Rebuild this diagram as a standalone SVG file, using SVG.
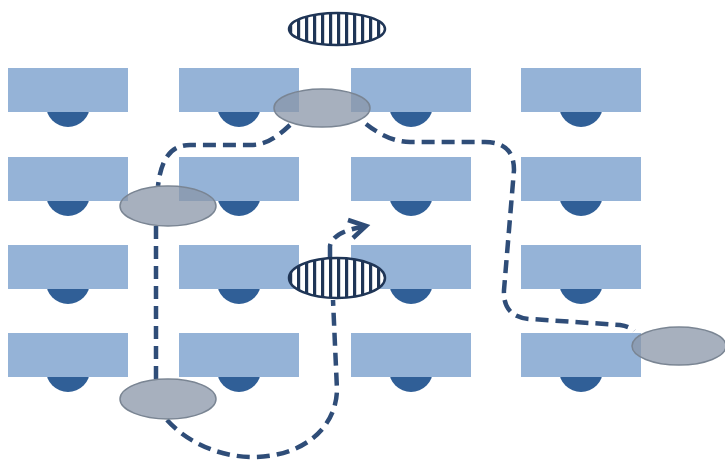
<svg xmlns="http://www.w3.org/2000/svg" width="725" height="466" viewBox="0 0 725 466">
<defs>
<pattern id="stripes" patternUnits="userSpaceOnUse" x="289" y="0" width="8" height="8">
<rect width="8" height="8" fill="#ffffff"/>
<rect width="3.2" height="8" fill="#1f3556"/>
</pattern>
<style>
.desk{fill:#95b3d7}
.seat{fill:#305f97}
.zone{fill:#8a96a8;fill-opacity:0.75;stroke:#7a8593;stroke-width:1.5}
.hatch{fill:url(#stripes);stroke:#1f3556;stroke-width:2.5}
.route{fill:none;stroke:#2f4d78;stroke-width:4.5;stroke-dasharray:13 7;stroke-linecap:butt}
.head{fill:none;stroke:#2f4d78;stroke-width:4.5;stroke-linejoin:miter}
</style>
<g id="unit">
<circle class="seat" cx="60" cy="37" r="22"/>
<rect class="desk" x="0" y="0" width="120" height="44"/>
</g>
</defs>
<rect width="725" height="466" fill="#ffffff"/>
<g id="desks">
<g id="d11"><use href="#unit" x="8" y="68"/></g>
<g id="d12"><use href="#unit" x="179" y="68"/></g>
<g id="d13"><use href="#unit" x="351" y="68"/></g>
<g id="d14"><use href="#unit" x="521" y="68"/></g>
<g id="d21"><use href="#unit" x="8" y="157"/></g>
<g id="d22"><use href="#unit" x="179" y="157"/></g>
<g id="d23"><use href="#unit" x="351" y="157"/></g>
<g id="d24"><use href="#unit" x="521" y="157"/></g>
<g id="d31"><use href="#unit" x="8" y="245"/></g>
<g id="d32"><use href="#unit" x="179" y="245"/></g>
<g id="d33"><use href="#unit" x="351" y="245"/></g>
<g id="d34"><use href="#unit" x="521" y="245"/></g>
<g id="d41"><use href="#unit" x="8" y="333"/></g>
<g id="d42"><use href="#unit" x="179" y="333"/></g>
<g id="d43"><use href="#unit" x="351" y="333"/></g>
<g id="d44"><use href="#unit" x="521" y="333"/></g>
</g>
<g id="connectors">
<path class="route" d="M 290 125 C 276 138 266 145 250 145 L 190 145 C 170 145 161 160 158 186"/>
<path class="route" d="M 156 226 L 156 380"/>
<path class="route" d="M 167 420 C 185 440 215 456 250 457 C 300 458 336 430 337 390 L 333 300"/>
<path class="route" d="M 330 257 L 330 246 C 332 236 344 230 362 227"/>
<polyline class="head" points="348,220 366,226 353,238"/>
<path class="route" d="M 366 124 C 380 135 395 142 410 142 L 485 142 C 505 142 514 152 514 170 L 504 290 C 503 308 512 318 530 319 L 620 325 C 627 326 631 328 634 331"/>
</g>
<g id="hatch-top"><ellipse class="hatch" cx="337" cy="29" rx="48" ry="16"/></g>
<g id="hatch-mid"><ellipse class="hatch" cx="337" cy="278" rx="48" ry="20"/></g>
<g id="zone1"><ellipse class="zone" cx="322" cy="108" rx="48" ry="19"/></g>
<g id="zone2"><ellipse class="zone" cx="168" cy="206" rx="48" ry="20"/></g>
<g id="zone3"><ellipse class="zone" cx="168" cy="399" rx="48" ry="20"/></g>
<g id="zone4"><ellipse class="zone" cx="679" cy="346" rx="47" ry="19"/></g>
</svg>
